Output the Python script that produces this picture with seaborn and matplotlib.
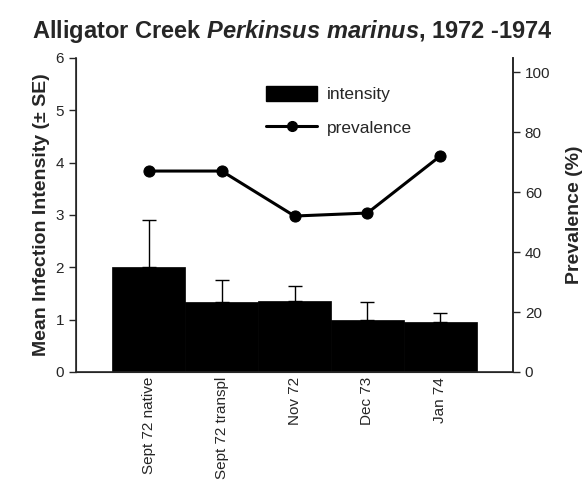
#!/usr/bin/env python3
import numpy as np
import pandas as pd
import seaborn as sns
from matplotlib import pyplot as plt
from matplotlib.lines import Line2D
from matplotlib.patches import Patch

# data
samples = ["Sept 72 native", "Sept 72 transpl", "Nov 72", "Dec 73", "Jan 74"]
intensity = [2.0, 1.33, 1.35, 1.0, 0.96]
intensity_se = [0.9, 0.43, 0.30, 0.33, 0.17]
prevalence = [67, 67, 52, 53, 72]

sns.set_style("ticks")
plt.rcParams["font.family"] = ["Liberation Sans", "DejaVu Sans"]
plt.rcParams["mathtext.fontset"] = "custom"
plt.rcParams["mathtext.rm"] = "Liberation Sans:bold"
plt.rcParams["mathtext.it"] = "Liberation Sans:italic:bold"

df = pd.DataFrame({"sample": samples, "intensity": intensity})

fig = plt.figure(figsize=(5.85, 4.86), dpi=100)
ax = fig.add_axes([0.130, 0.2346, 0.747, 0.6461])

sns.barplot(data=df, x="sample", y="intensity", color="black", width=1.0,
            saturation=1, errorbar=None, edgecolor="black", linewidth=0.5, ax=ax)
pos = np.arange(len(samples))
ax.errorbar(pos, intensity, yerr=[np.zeros(len(samples)), intensity_se],
            fmt="none", ecolor="black", elinewidth=1, capsize=5, capthick=1)

ax.set_xlim(-1, 5)
ax.set_ylim(0, 6)
ax.set_yticks(range(0, 7))
ax.set_xlabel("")
ax.set_ylabel("Mean Infection Intensity (\u00b1 SE)", fontsize=14, fontweight="bold")
ax.tick_params(axis="x", length=0, labelsize=11, rotation=90)
ax.tick_params(axis="y", length=5, width=1, labelsize=11)
for s in ["left", "bottom", "right"]:
    ax.spines[s].set_linewidth(1.2)
ax.spines["top"].set_visible(False)

ax2 = ax.twinx()
sns.lineplot(x=pos, y=prevalence, color="black", linewidth=2.2, marker="o",
             markersize=8, markeredgecolor="black", ax=ax2)
ax2.set_ylim(0, 104.7)
ax2.set_yticks(range(0, 101, 20))
ax2.set_ylabel("Prevalence (%)", fontsize=14, fontweight="bold", labelpad=11)
ax2.tick_params(axis="y", length=5, width=1, labelsize=11)
ax2.spines["top"].set_visible(False)
ax2.spines["right"].set_linewidth(1.2)

handles = [Patch(facecolor="black", edgecolor="black"),
           Line2D([], [], color="black", linewidth=2.2, marker="o", markersize=7)]
ax2.legend(handles, ["intensity", "prevalence"], frameon=False, fontsize=12.5,
           handlelength=2.9, handleheight=1.0, handletextpad=0.6, labelspacing=1.0,
           loc="upper left", bbox_to_anchor=(0.4, 0.962))

fig.suptitle("Alligator Creek $\\mathit{Perkinsus\\ marinus}$, 1972 -1974",
             fontsize=17, fontweight="bold", x=0.5, y=0.962)

fig.savefig("out.png", dpi=100)
